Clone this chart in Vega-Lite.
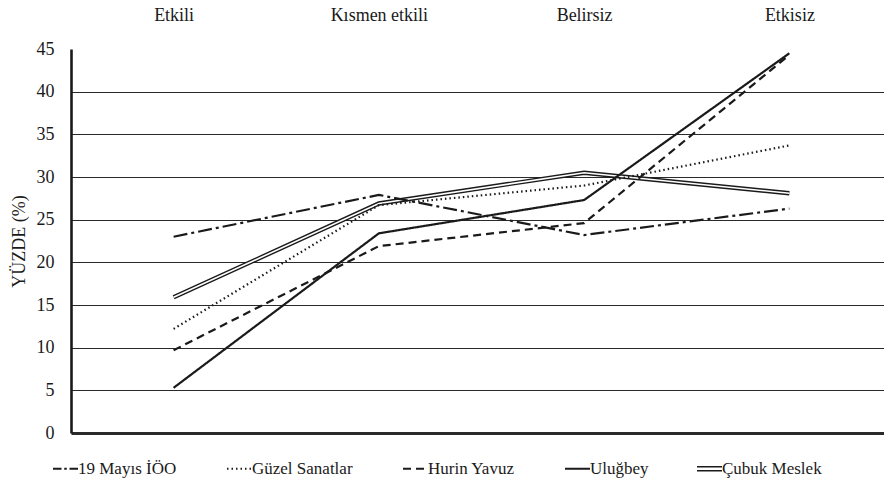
{
  "$schema": "https://vega.github.io/schema/vega-lite/v6.json",
  "width": 821,
  "height": 384,
  "autosize": {"type": "none"},
  "padding": {"left": 71, "top": 49, "right": -8, "bottom": 54},
  "background": "white",
  "config": {"view": {"stroke": null}, "font": "Liberation Serif"},
  "data": {
    "values": [
      {"kategori": "Etkili", "okul": "19 Mayıs İÖO", "deger": 23.0},
      {"kategori": "Etkili", "okul": "Güzel Sanatlar", "deger": 12.2},
      {"kategori": "Etkili", "okul": "Hurin Yavuz", "deger": 9.7},
      {"kategori": "Etkili", "okul": "Uluğbey", "deger": 5.3},
      {"kategori": "Etkili", "okul": "Çubuk Meslek", "deger": 15.9},
      {"kategori": "Kısmen etkili", "okul": "19 Mayıs İÖO", "deger": 27.9},
      {"kategori": "Kısmen etkili", "okul": "Güzel Sanatlar", "deger": 26.7},
      {"kategori": "Kısmen etkili", "okul": "Hurin Yavuz", "deger": 21.9},
      {"kategori": "Kısmen etkili", "okul": "Uluğbey", "deger": 23.4},
      {"kategori": "Kısmen etkili", "okul": "Çubuk Meslek", "deger": 26.9},
      {"kategori": "Belirsiz", "okul": "19 Mayıs İÖO", "deger": 23.2},
      {"kategori": "Belirsiz", "okul": "Güzel Sanatlar", "deger": 29.0},
      {"kategori": "Belirsiz", "okul": "Hurin Yavuz", "deger": 24.6},
      {"kategori": "Belirsiz", "okul": "Uluğbey", "deger": 27.3},
      {"kategori": "Belirsiz", "okul": "Çubuk Meslek", "deger": 30.5},
      {"kategori": "Etkisiz", "okul": "19 Mayıs İÖO", "deger": 26.3},
      {"kategori": "Etkisiz", "okul": "Güzel Sanatlar", "deger": 33.7},
      {"kategori": "Etkisiz", "okul": "Hurin Yavuz", "deger": 44.3},
      {"kategori": "Etkisiz", "okul": "Uluğbey", "deger": 44.5},
      {"kategori": "Etkisiz", "okul": "Çubuk Meslek", "deger": 28.1}
    ]
  },
  "encoding": {
    "x": {
      "field": "kategori",
      "type": "nominal",
      "sort": ["Etkili", "Kısmen etkili", "Belirsiz", "Etkisiz"],
      "scale": {"type": "point", "padding": 0.5},
      "axis": {
        "orient": "top",
        "title": null,
        "domain": false,
        "ticks": false,
        "grid": false,
        "labelAngle": 0,
        "labelFont": "Liberation Serif",
        "labelFontSize": 18,
        "labelColor": "#1a1a1a",
        "labelPadding": 25
      }
    },
    "y": {
      "field": "deger",
      "type": "quantitative",
      "scale": {"domain": [0, 45], "nice": false, "zero": true},
      "axis": {
        "title": "YÜZDE (%)",
        "titleFont": "Liberation Serif",
        "titleFontSize": 18,
        "titleFontWeight": "normal",
        "titleColor": "#1a1a1a",
        "titlePadding": 8,
        "values": [0, 5, 10, 15, 20, 25, 30, 35, 40, 45],
        "ticks": false,
        "labelPadding": 17,
        "labelFont": "Liberation Serif",
        "labelFontSize": 18,
        "labelColor": "#1a1a1a",
        "domainWidth": 2.6,
        "domainColor": "#1a1a1a",
        "grid": true,
        "gridColor": "#2a2a2a",
        "gridWidth": {"condition": {"test": "datum.value === 0", "value": 3}, "value": 1.2},
        "gridOpacity": {"condition": {"test": "datum.value === 45", "value": 0}, "value": 1}
      }
    }
  },
  "layer": [
    {
      "transform": [{"filter": "datum.okul === 'Çubuk Meslek'"}],
      "mark": {"type": "line", "color": "#1a1a1a", "strokeWidth": 4.4},
      "encoding": {}
    },
    {
      "transform": [{"filter": "datum.okul === 'Çubuk Meslek'"}],
      "mark": {"type": "line", "color": "white", "strokeWidth": 1.6},
      "encoding": {}
    },
    {
      "transform": [{"filter": "datum.okul !== 'Çubuk Meslek'"}],
      "mark": {"type": "line", "color": "#1a1a1a", "strokeWidth": 2.2},
      "encoding": {
        "strokeDash": {
          "field": "okul",
          "type": "nominal",
          "scale": {
            "domain": ["19 Mayıs İÖO", "Güzel Sanatlar", "Hurin Yavuz", "Uluğbey", "Çubuk Meslek"],
            "range": [[14, 4, 3, 4], [1.5, 3], [8, 5], [1, 0], [1, 0]]
          },
          "legend": {
            "title": null,
            "orient": "none",
            "legendX": -14,
            "legendY": 411,
            "direction": "horizontal",
            "columns": 5,
            "columnPadding": 45,
            "symbolType": "stroke",
            "symbolSize": 625,
            "symbolStrokeWidth": 2.2,
            "symbolStrokeColor": "#1a1a1a",
            "labelFont": "Liberation Serif",
            "labelFontSize": 17,
            "labelColor": "#1a1a1a",
            "labelOffset": 4,
            "labelLimit": 300,
            "encode": {
              "symbols": {
                "update": {
                  "shape": {"signal": "datum.label === 'Çubuk Meslek' ? 'M-1,-0.16H1M-1,0.16H1' : (datum.label === '19 Mayıs İÖO' ? 'M-1,0H-0.32M-0.1,0H0.1M0.32,0H1' : 'stroke')"},
                  "strokeDash": {"signal": "datum.label === '19 Mayıs İÖO' ? [1, 0] : scale('strokeDash', datum.value)"},
                  "strokeWidth": {"signal": "datum.label === 'Çubuk Meslek' ? 1.4 : 2.2"}
                }
              }
            }
          }
        }
      }
    }
  ]
}
